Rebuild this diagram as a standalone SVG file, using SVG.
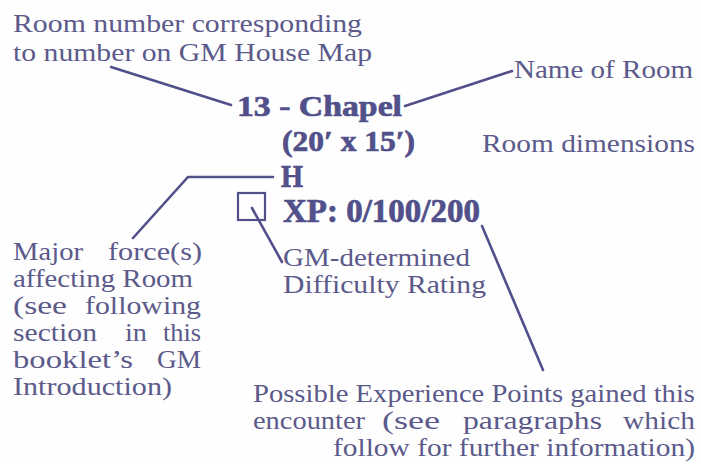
<svg xmlns="http://www.w3.org/2000/svg" width="701" height="464" viewBox="0 0 701 464">
<style>
.t{font-family:"Liberation Serif","Times New Roman",serif;font-size:25px;fill:#5b5a8b}
.b{font-family:"Liberation Serif","Times New Roman",serif;font-size:30px;font-weight:bold;fill:#51508a;stroke:#51508a;stroke-width:0.7}
.ln{fill:none;stroke:#51508a;stroke-width:2.6;stroke-linecap:round;stroke-linejoin:miter}
</style>
<rect width="701" height="464" fill="#fefefe"/>
<g id="connectors">
<line class="ln" x1="111" y1="67" x2="231" y2="105"/>
<line class="ln" x1="405" y1="106" x2="512" y2="71"/>
<polyline class="ln" points="273,177 188,177 133,238"/>
<line class="ln" x1="252" y1="208" x2="282" y2="262"/>
<line class="ln" x1="482" y1="226" x2="543" y2="370"/>
</g>
<g id="room-number-label">
<text class="t" x="13" y="32" textLength="349" lengthAdjust="spacingAndGlyphs">Room number corresponding</text>
<text class="t" x="13" y="61" textLength="359" lengthAdjust="spacingAndGlyphs">to number on GM House Map</text>
</g>
<g id="name-label">
<text class="t" x="514" y="78" textLength="179" lengthAdjust="spacingAndGlyphs">Name of Room</text>
</g>
<g id="room-title">
<text class="b" x="237" y="116" textLength="165" lengthAdjust="spacingAndGlyphs">13 - Chapel</text>
</g>
<g id="room-size">
<text class="b" x="282" y="151" textLength="133" lengthAdjust="spacingAndGlyphs">(20′ x 15′)</text>
</g>
<g id="dimensions-label">
<text class="t" x="482" y="152" textLength="213" lengthAdjust="spacingAndGlyphs">Room dimensions</text>
</g>
<g id="force-code">
<text class="b" x="281" y="187" style="font-size:32px" textLength="22" lengthAdjust="spacingAndGlyphs">H</text>
</g>
<g id="difficulty-box">
<rect x="238" y="193" width="27" height="27" fill="none" stroke="#51508a" stroke-width="2.2"/>
</g>
<g id="xp">
<text class="b" x="283" y="222" style="font-size:33px" textLength="197" lengthAdjust="spacingAndGlyphs">XP: 0/100/200</text>
</g>
<g id="force-label">
<text class="t" x="13" y="260" textLength="70" lengthAdjust="spacingAndGlyphs">Major</text><text class="t" x="108" y="260" textLength="94" lengthAdjust="spacingAndGlyphs">force(s)</text>
<text class="t" x="13" y="287" textLength="180" lengthAdjust="spacingAndGlyphs">affecting Room</text>
<text class="t" x="13" y="314" textLength="54" lengthAdjust="spacingAndGlyphs">(see</text><text class="t" x="85" y="314" textLength="116" lengthAdjust="spacingAndGlyphs">following</text>
<text class="t" x="13" y="341" textLength="84" lengthAdjust="spacingAndGlyphs">section</text><text class="t" x="125" y="341" textLength="22" lengthAdjust="spacingAndGlyphs">in</text><text class="t" x="163" y="341" textLength="38" lengthAdjust="spacingAndGlyphs">this</text>
<text class="t" x="13" y="368" textLength="120" lengthAdjust="spacingAndGlyphs">booklet’s</text><text class="t" x="157" y="368" textLength="44" lengthAdjust="spacingAndGlyphs">GM</text>
<text class="t" x="13" y="395" textLength="159" lengthAdjust="spacingAndGlyphs">Introduction)</text>
</g>
<g id="difficulty-label">
<text class="t" x="283" y="266" textLength="187" lengthAdjust="spacingAndGlyphs">GM-determined</text>
<text class="t" x="283" y="293" textLength="203" lengthAdjust="spacingAndGlyphs">Difficulty Rating</text>
</g>
<g id="xp-label">
<text class="t" x="253" y="402" textLength="442" lengthAdjust="spacingAndGlyphs">Possible Experience Points gained this</text>
<text class="t" x="253" y="429" textLength="112" lengthAdjust="spacingAndGlyphs">encounter</text><text class="t" x="382" y="429" textLength="58" lengthAdjust="spacingAndGlyphs">(see</text><text class="t" x="463" y="429" textLength="139" lengthAdjust="spacingAndGlyphs">paragraphs</text><text class="t" x="623" y="429" textLength="72" lengthAdjust="spacingAndGlyphs">which</text>
<text class="t" x="333" y="456" textLength="362" lengthAdjust="spacingAndGlyphs">follow for further information)</text>
</g>
</svg>
